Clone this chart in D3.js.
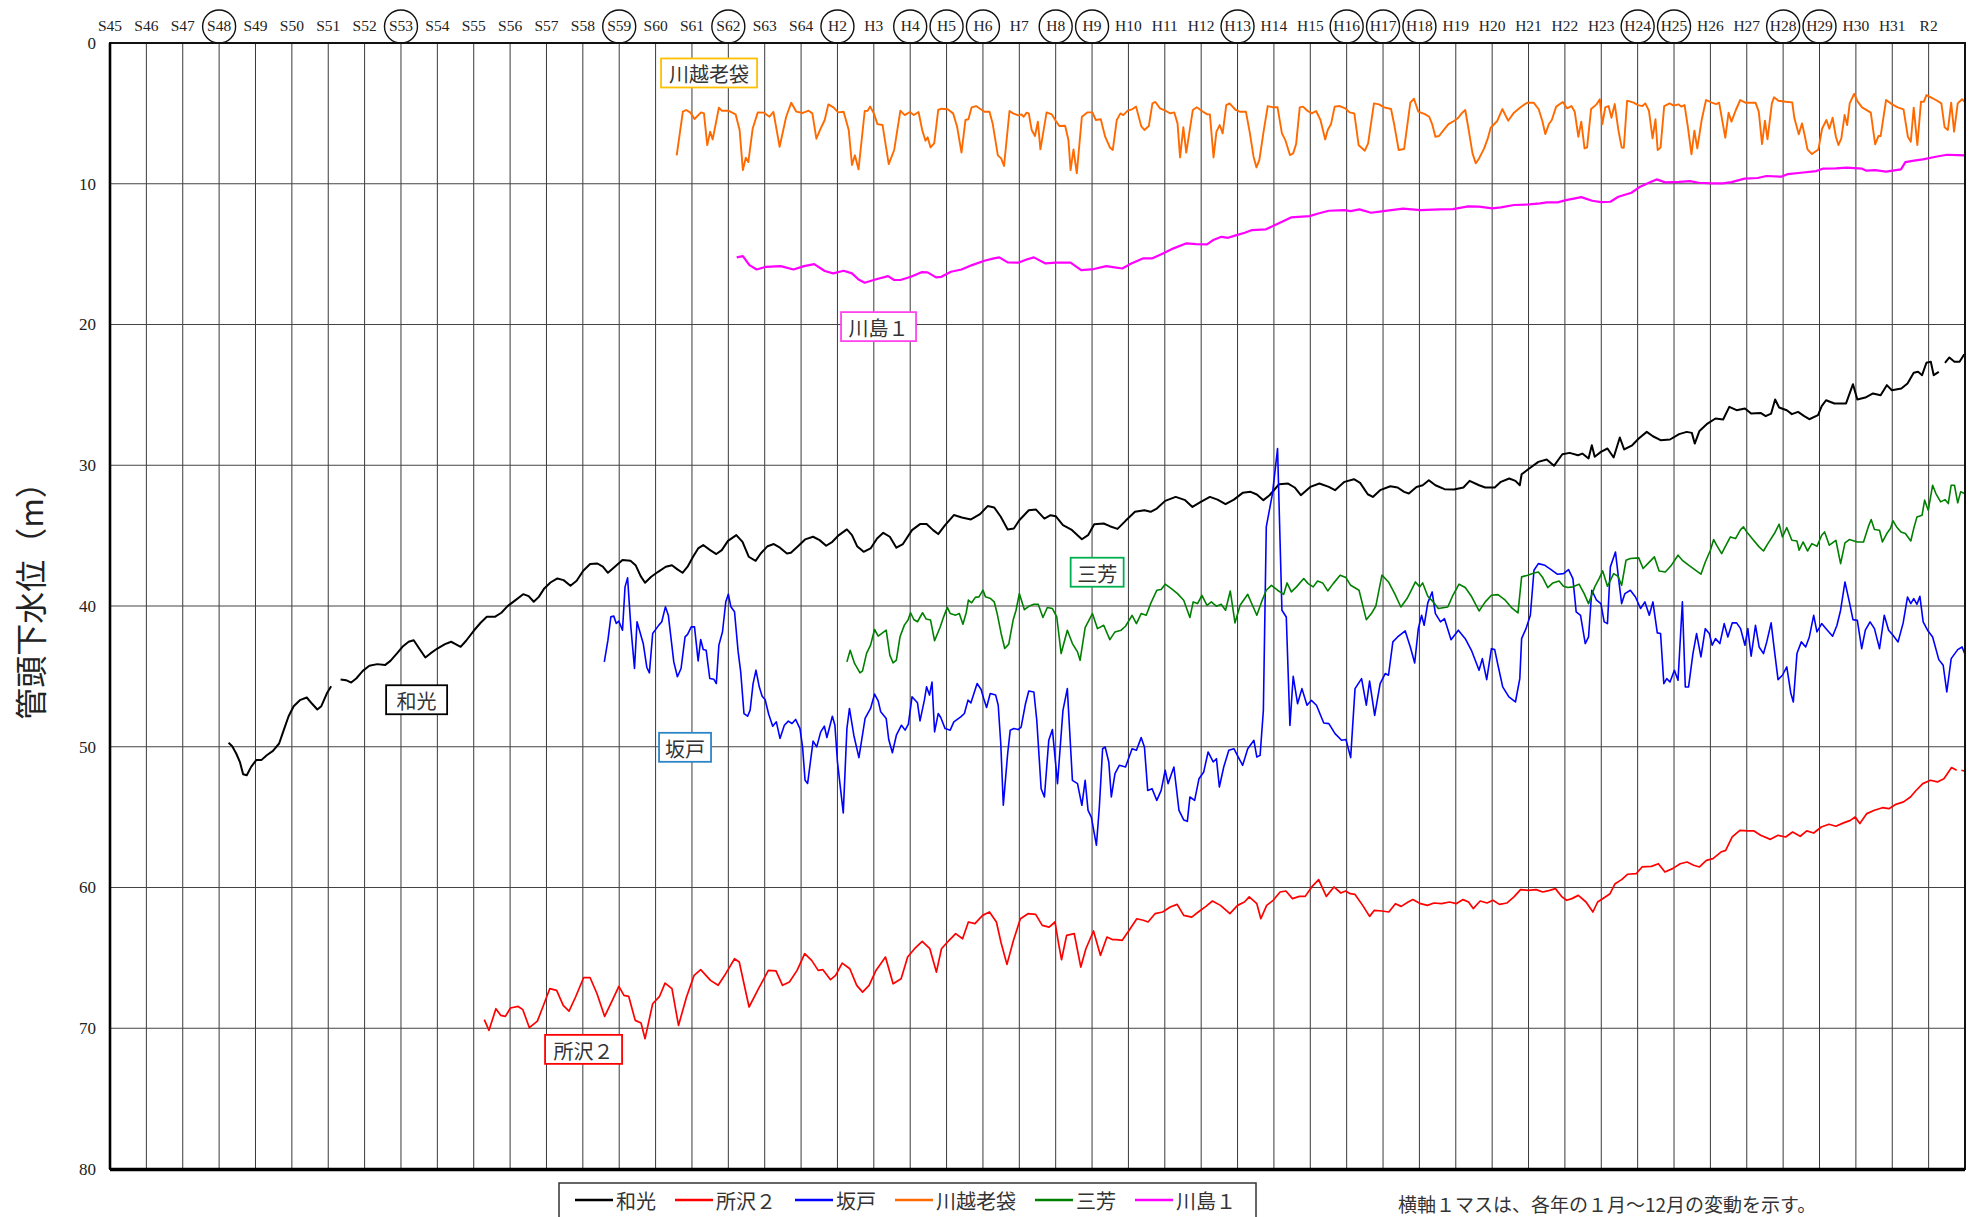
<!DOCTYPE html>
<html>
<head>
<meta charset="utf-8">
<script src="https://cdn.jsdelivr.net/npm/d3@7"></script>
<style>
  body { margin: 0; background: #fff; }
  svg { display: block; }
</style>
</head>
<body>
<svg id="chart" width="1979" height="1217"></svg>
<script>
// Year labels along the top (one column per year, S45 = 1970 ... R2 = 2020)
const yearLabels = [
  "S45","S46","S47","S48","S49","S50","S51","S52","S53","S54",
  "S55","S56","S57","S58","S59","S60","S61","S62","S63","S64",
  "H2","H3","H4","H5","H6","H7","H8","H9","H10","H11",
  "H12","H13","H14","H15","H16","H17","H18","H19","H20","H21",
  "H22","H23","H24","H25","H26","H27","H28","H29","H30","H31","R2"
];
// Years whose label is circled
const circledYears = ["S48","S53","S59","S62","H2","H4","H5","H6","H8","H9",
  "H13","H16","H17","H18","H24","H25","H28","H29"];
const depthTicks = [0, 10, 20, 30, 40, 50, 60, 70, 80];

// Series: [years since Jan 1970 (S45), depth below well head in m]; null = gap
const wako = [
  [3.26,49.72],[3.36,49.96],[3.47,50.48],[3.57,51.07],[3.66,51.95],[3.76,52.02],[3.88,51.43],[4.02,50.95],[4.16,50.95],[4.31,50.6],
  [4.48,50.29],[4.65,49.77],[4.76,48.94],[4.91,47.83],[5.05,47.12],[5.22,46.69],[5.41,46.5],[5.55,46.93],[5.70,47.35],[5.81,47.12],
  [5.96,46.22],[6.08,45.7],[6.2,null],[6.34,45.22],[6.49,45.27],[6.63,45.44],[6.77,45.15],[6.95,44.61],[7.13,44.25],[7.35,44.13],
  [7.56,44.2],[7.71,43.9],[7.89,43.37],[8.04,42.9],[8.21,42.54],[8.35,42.43],[8.52,43.09],[8.67,43.66],[8.81,43.37],[9.0,43.02],
  [9.21,42.71],[9.38,42.54],[9.50,42.71],[9.64,42.9],[9.79,42.47],[10.0,41.76],[10.19,41.19],[10.36,40.77],[10.58,40.77],[10.76,40.48],
  [10.93,40.01],[11.15,39.58],[11.36,39.16],[11.51,39.3],[11.65,39.7],[11.79,39.35],[11.94,38.75],[12.11,38.33],[12.30,38.04],[12.47,38.16],
  [12.66,38.56],[12.83,38.21],[13.01,37.5],[13.20,37.02],[13.40,36.98],[13.55,37.21],[13.69,37.64],[13.88,37.21],[14.09,36.74],[14.31,36.79],
  [14.45,37.1],[14.59,37.88],[14.71,38.35],[14.88,37.92],[15.07,37.57],[15.28,37.21],[15.45,37.1],[15.60,37.4],[15.74,37.64],[15.88,37.21],
  [16.03,36.5],[16.17,35.91],[16.31,35.67],[16.50,36.03],[16.67,36.31],[16.82,36.03],[16.99,35.37],[17.22,34.96],[17.39,35.44],[17.56,36.5],
  [17.75,36.79],[17.89,36.27],[18.08,35.75],[18.25,35.6],[18.42,35.86],[18.61,36.27],[18.72,36.22],[18.90,35.79],[19.11,35.27],[19.33,35.08],
  [19.51,35.32],[19.69,35.72],[19.86,35.44],[20.04,34.96],[20.26,34.56],[20.40,34.96],[20.54,35.75],[20.72,36.15],[20.91,35.91],[21.09,35.2],
  [21.26,34.8],[21.44,35.08],[21.62,35.86],[21.80,35.6],[22.05,34.61],[22.27,34.18],[22.45,34.18],[22.63,34.61],[22.77,34.89],[22.96,34.25],
  [23.20,33.54],[23.42,33.71],[23.67,33.85],[23.92,33.47],[24.13,32.9],[24.31,33.0],[24.49,33.66],[24.68,34.56],[24.85,34.49],[25.0,33.91],
  [25.26,33.2],[25.46,33.15],[25.69,33.79],[25.86,33.55],[26.0,33.62],[26.20,34.26],[26.43,34.57],[26.60,34.97],[26.72,35.26],[26.89,34.97],
  [27.06,34.19],[27.32,34.14],[27.49,34.33],[27.70,34.52],[27.92,33.95],[28.18,33.31],[28.44,33.2],[28.61,33.31],[28.78,33.08],[29.01,32.53],
  [29.30,32.25],[29.56,32.48],[29.76,32.96],[29.99,32.6],[30.24,32.25],[30.45,32.44],[30.67,32.77],[30.90,32.44],[31.14,31.96],[31.36,31.89],
  [31.53,32.08],[31.71,32.48],[31.88,32.13],[32.14,31.35],[32.39,31.3],[32.57,31.58],[32.74,32.13],[33.0,31.54],[33.25,31.3],[33.51,31.54],
  [33.68,31.77],[33.94,31.18],[34.20,30.99],[34.37,31.25],[34.58,32.06],[34.72,32.25],[34.92,31.77],[35.20,31.49],[35.40,31.58],[35.58,31.89],
  [35.71,32.01],[35.92,31.54],[36.09,31.42],[36.26,31.06],[36.44,31.42],[36.69,31.7],[36.95,31.73],[37.21,31.58],[37.38,31.11],[37.64,31.42],
  [37.81,31.58],[38.07,31.58],[38.24,31.18],[38.47,30.94],[38.64,31.11],[38.76,31.42],[38.81,30.64],[39.02,30.23],[39.27,29.76],[39.50,29.59],
  [39.70,30.04],[39.93,29.22],[40.13,29.12],[40.36,29.29],[40.48,29.17],[40.65,29.52],[40.74,28.58],[40.82,29.4],[40.99,29.05],[41.17,28.81],
  [41.34,29.45],[41.51,28.03],[41.63,28.88],[41.85,28.58],[42.03,28.1],[42.25,27.63],[42.42,27.94],[42.63,28.22],[42.89,28.17],[43.14,27.79],
  [43.35,27.63],[43.49,27.7],[43.57,28.46],[43.70,27.56],[43.92,27.04],[44.14,26.68],[44.35,26.75],[44.52,25.85],[44.72,26.09],[44.95,25.97],
  [45.12,26.33],[45.38,26.28],[45.52,26.51],[45.67,26.33],[45.78,25.33],[45.89,25.9],[46.10,26.09],[46.24,26.37],[46.41,26.21],[46.58,26.51],
  [46.72,26.73],[46.96,26.44],[47.06,25.8],[47.18,25.38],[47.41,25.61],[47.73,25.61],[47.92,24.24],[48.04,25.33],[48.26,25.19],[48.47,24.9],
  [48.68,25.02],[48.85,24.31],[48.99,24.67],[49.25,24.55],[49.42,24.19],[49.59,23.43],[49.71,23.36],[49.82,23.6],[49.94,22.72],[50.06,22.65],
  [50.14,23.6],[50.28,23.36],[50.36,null],[50.45,22.72],[50.57,22.34],[50.71,22.65],[50.85,22.65],[50.98,22.11]
];

const tokorozawa = [
  [10.29,69.39],[10.42,70.15],[10.61,68.61],[10.74,69.08],[10.87,69.16],[11.01,68.56],[11.22,68.45],[11.35,68.68],[11.53,69.96],[11.75,69.49],
  [11.90,68.49],[12.09,67.19],[12.28,67.31],[12.46,68.37],[12.62,68.78],[12.80,67.78],[13.02,66.41],[13.20,66.41],[13.39,67.55],[13.60,69.16],
  [13.81,68.02],[13.99,67.02],[14.13,67.66],[14.26,67.73],[14.44,69.44],[14.60,69.63],[14.71,70.74],[14.92,68.26],[15.11,67.73],[15.26,66.79],
  [15.45,67.19],[15.63,69.8],[15.85,67.78],[16.06,66.24],[16.24,65.84],[16.51,66.6],[16.72,66.95],[16.90,66.24],[17.17,65.06],[17.30,65.29],
  [17.57,68.49],[17.83,67.19],[18.10,65.89],[18.31,65.93],[18.49,66.95],[18.68,66.72],[18.89,65.89],[19.10,64.7],[19.29,65.18],[19.47,65.89],
  [19.60,65.84],[19.81,66.55],[19.95,66.24],[20.13,65.37],[20.34,65.77],[20.53,66.95],[20.69,67.43],[20.87,66.95],[21.06,65.89],[21.32,64.94],
  [21.53,66.84],[21.75,66.48],[21.93,64.94],[22.12,64.35],[22.33,63.83],[22.54,64.35],[22.72,66.01],[22.86,64.35],[23.07,63.75],[23.25,63.28],
  [23.44,63.64],[23.60,62.45],[23.78,62.57],[23.99,61.98],[24.18,61.74],[24.37,62.45],[24.50,63.94],[24.66,65.46],[24.84,63.75],[25.03,62.22],
  [25.24,61.86],[25.45,61.91],[25.63,62.69],[25.82,62.81],[25.98,62.45],[26.08,63.99],[26.16,65.13],[26.30,63.4],[26.51,63.28],[26.69,65.65],
  [26.83,64.35],[27.04,63.09],[27.23,64.82],[27.41,63.52],[27.57,63.71],[27.67,63.71],[27.83,63.75],[28.02,63.04],[28.23,62.22],[28.41,62.33],
  [28.54,62.45],[28.73,61.86],[28.94,61.74],[29.15,61.39],[29.34,61.2],[29.52,61.98],[29.74,62.1],[29.92,61.74],[30.13,61.34],[30.31,60.96],
  [30.53,61.27],[30.79,61.86],[31.0,61.27],[31.19,61.03],[31.32,60.67],[31.53,61.15],[31.64,62.22],[31.80,61.27],[31.98,60.91],[32.17,60.32],
  [32.33,60.25],[32.51,60.79],[32.70,60.63],[32.86,60.63],[33.04,59.96],[33.23,59.44],[33.44,60.63],[33.65,59.96],[33.84,60.39],[33.97,60.25],
  [34.10,60.44],[34.23,60.49],[34.44,61.27],[34.63,62.05],[34.76,61.62],[34.97,61.67],[35.16,61.74],[35.34,61.15],[35.50,61.34],[35.69,61.03],
  [35.82,60.86],[36.03,61.15],[36.22,61.27],[36.40,61.1],[36.61,61.15],[36.83,61.03],[37.01,61.15],[37.20,60.86],[37.35,61.03],[37.48,61.5],
  [37.67,60.96],[37.86,61.1],[38.02,60.91],[38.20,61.2],[38.41,61.1],[38.60,60.67],[38.78,60.15],[38.99,60.2],[39.21,60.15],[39.39,60.32],
  [39.58,60.2],[39.74,60.08],[39.92,60.67],[40.05,60.91],[40.19,60.79],[40.37,60.56],[40.58,61.03],[40.77,61.74],[40.90,61.03],[41.11,60.67],
  [41.24,60.44],[41.38,59.73],[41.56,59.44],[41.72,59.06],[41.96,59.02],[42.12,58.54],[42.38,58.5],[42.57,58.31],[42.75,58.9],[42.96,58.66],
  [43.17,58.31],[43.36,58.19],[43.54,58.42],[43.70,58.54],[43.89,58.07],[44.07,57.95],[44.29,57.48],[44.42,57.36],[44.60,56.41],[44.81,55.94],
  [45.02,55.98],[45.20,55.98],[45.38,56.29],[45.65,56.58],[45.86,56.29],[46.07,56.41],[46.26,56.06],[46.47,56.36],[46.65,55.98],[46.84,56.13],
  [47.05,55.7],[47.26,55.51],[47.45,55.65],[47.66,55.41],[47.85,55.23],[47.98,54.99],[48.11,55.46],[48.30,54.75],[48.51,54.51],[48.73,54.33],
  [48.91,54.4],[49.10,54.09],[49.31,53.92],[49.50,53.57],[49.66,53.09],[49.84,52.62],[50.05,52.38],[50.24,52.5],[50.42,52.27],[50.63,51.48],
  [50.77,51.67],[50.84,null],[50.90,51.67],[50.98,51.72]
];

const sakado = [
  [13.59,43.97],[13.69,42.43],[13.77,40.77],[13.85,40.72],[13.92,41.24],[13.99,41.08],[14.09,41.72],[14.16,38.64],[14.23,38.0],[14.32,41.48],
  [14.42,44.44],[14.49,41.12],[14.66,42.66],[14.76,44.37],[14.83,44.75],[14.92,41.95],[15.09,41.36],[15.17,41.12],[15.27,40.06],[15.35,40.65],
  [15.50,43.97],[15.60,45.03],[15.70,44.44],[15.81,42.19],[15.88,42.02],[15.98,41.48],[16.07,41.48],[16.17,43.9],[16.24,42.38],[16.31,43.09],
  [16.39,43.14],[16.49,45.15],[16.60,45.2],[16.67,45.51],[16.74,42.78],[16.84,41.83],[16.93,39.7],[17.0,39.16],[17.07,40.06],[17.17,40.41],
  [17.27,43.26],[17.34,44.68],[17.43,47.64],[17.53,47.83],[17.60,47.4],[17.68,45.51],[17.76,44.56],[17.85,45.74],[17.93,46.41],[18.01,46.64],
  [18.11,47.69],[18.22,48.54],[18.32,48.23],[18.42,49.41],[18.54,48.47],[18.65,48.18],[18.75,48.35],[18.85,48.06],[18.97,48.71],[19.04,50.01],
  [19.11,52.38],[19.18,52.61],[19.33,49.6],[19.43,50.01],[19.54,48.94],[19.64,48.54],[19.71,49.34],[19.86,47.83],[19.93,48.47],[20.0,51.07],
  [20.16,54.7],[20.26,48.71],[20.33,47.28],[20.45,49.18],[20.59,50.77],[20.76,47.99],[20.91,47.28],[21.02,46.26],[21.12,46.74],[21.19,47.52],
  [21.34,47.99],[21.41,49.49],[21.51,50.43],[21.62,49.18],[21.76,48.47],[21.86,48.82],[21.95,48.4],[22.05,46.45],[22.20,46.88],[22.27,48.16],
  [22.39,46.69],[22.45,45.74],[22.53,46.33],[22.60,45.41],[22.67,48.94],[22.77,47.64],[22.84,47.92],[22.96,48.71],[23.10,48.82],[23.20,48.23],
  [23.39,47.88],[23.49,47.64],[23.59,46.69],[23.67,46.88],[23.84,45.51],[23.95,45.93],[24.02,46.57],[24.10,47.21],[24.20,46.22],[24.35,46.33],
  [24.42,47.05],[24.49,49.77],[24.56,54.15],[24.68,50.48],[24.75,48.82],[24.85,48.71],[24.97,48.78],[25.05,48.6],[25.17,46.94],[25.26,46.04],
  [25.40,46.11],[25.48,48.12],[25.60,52.98],[25.69,53.57],[25.81,49.54],[25.91,48.78],[26.05,52.62],[26.20,47.41],[26.32,45.87],[26.46,52.39],
  [26.60,52.62],[26.72,54.16],[26.81,52.39],[26.89,54.52],[26.98,55.0],[27.12,57.0],[27.20,54.3],[27.29,50.14],[27.36,50.02],[27.46,51.08],
  [27.53,53.57],[27.63,51.91],[27.75,51.32],[27.92,51.44],[28.10,50.14],[28.22,50.25],[28.35,49.35],[28.44,50.02],[28.53,53.1],[28.65,52.98],
  [28.78,53.81],[28.90,53.1],[29.01,51.67],[29.09,52.62],[29.25,51.44],[29.39,54.52],[29.52,55.2],[29.62,55.3],[29.69,53.57],[29.82,53.81],
  [29.94,52.27],[30.07,51.79],[30.19,50.37],[30.33,51.08],[30.42,50.85],[30.50,52.86],[30.62,51.44],[30.76,50.25],[30.90,50.14],[31.02,50.73],
  [31.14,51.32],[31.28,50.14],[31.45,49.54],[31.53,50.73],[31.62,50.61],[31.71,47.41],[31.79,34.38],[31.96,32.01],[32.10,28.81],[32.22,40.3],
  [32.34,40.78],[32.44,48.48],[32.53,45.0],[32.65,46.94],[32.77,45.87],[32.91,47.05],[33.03,46.7],[33.17,47.05],[33.37,48.31],[33.51,48.36],
  [33.68,49.07],[33.86,49.54],[33.98,49.49],[34.11,50.77],[34.23,45.87],[34.41,45.16],[34.54,47.05],[34.63,45.33],[34.77,47.77],[34.92,45.52],
  [35.06,44.8],[35.15,44.92],[35.27,42.55],[35.40,42.2],[35.61,41.77],[35.75,42.91],[35.87,44.05],[35.97,41.61],[36.06,40.66],[36.13,41.37],
  [36.23,39.78],[36.35,39.0],[36.44,40.54],[36.58,41.13],[36.69,40.9],[36.87,42.39],[37.07,41.72],[37.26,42.32],[37.43,43.15],[37.64,44.57],
  [37.73,43.74],[37.85,45.23],[37.98,43.03],[38.07,43.1],[38.16,44.21],[38.29,45.75],[38.46,46.46],[38.64,46.82],[38.76,45.16],[38.81,42.32],
  [38.93,41.61],[39.05,40.66],[39.15,37.46],[39.27,36.99],[39.45,37.11],[39.62,37.41],[39.79,37.74],[39.96,37.7],[40.10,37.41],[40.22,38.05],
  [40.31,40.42],[40.43,40.66],[40.56,42.67],[40.65,42.2],[40.74,38.88],[40.87,39.59],[40.99,39.83],[41.08,41.13],[41.17,41.25],[41.25,37.22],
  [41.39,36.16],[41.47,37.93],[41.56,39.83],[41.65,39.12],[41.80,38.88],[41.94,39.36],[42.08,40.18],[42.20,39.71],[42.32,40.66],[42.42,39.71],
  [42.54,41.91],[42.63,41.96],[42.72,45.52],[42.80,45.16],[42.89,45.4],[43.01,44.57],[43.11,45.28],[43.23,39.71],[43.31,45.75],[43.40,45.75],
  [43.52,43.38],[43.62,41.96],[43.74,43.62],[43.86,41.61],[43.97,41.96],[44.05,42.79],[44.14,42.32],[44.26,42.67],[44.38,41.25],[44.48,42.2],
  [44.60,41.2],[44.72,41.2],[44.83,41.61],[44.95,42.79],[45.03,41.61],[45.12,43.57],[45.24,41.37],[45.34,42.91],[45.46,43.38],[45.55,42.55],
  [45.67,41.2],[45.76,43.15],[45.86,45.23],[45.98,44.92],[46.10,44.33],[46.21,46.18],[46.28,46.82],[46.38,43.38],[46.50,42.55],[46.62,42.91],
  [46.72,42.2],[46.84,40.66],[46.93,41.84],[47.06,41.25],[47.18,41.61],[47.36,42.15],[47.48,41.37],[47.58,40.3],[47.70,38.29],[47.82,39.71],
  [47.92,40.97],[48.04,41.02],[48.16,43.03],[48.26,41.72],[48.39,41.13],[48.51,41.61],[48.65,43.03],[48.78,40.66],[48.90,41.72],[49.02,42.08],
  [49.16,42.55],[49.30,41.2],[49.42,39.36],[49.51,39.83],[49.59,39.47],[49.68,39.88],[49.76,39.31],[49.85,41.13],[49.97,41.72],[50.11,42.2],
  [50.28,43.81],[50.40,44.21],[50.50,46.11],[50.62,43.74],[50.80,43.1],[50.92,42.91],[50.99,43.38]
];

const kawagoe = [
  [15.58,7.98],[15.75,4.88],[15.84,4.76],[15.96,4.95],[16.07,5.40],[16.25,4.93],[16.33,5.0],[16.42,7.25],[16.50,6.30],[16.57,6.85],
  [16.74,4.6],[16.82,4.81],[17.0,4.81],[17.2,5.07],[17.31,6.18],[17.40,9.03],[17.48,8.15],[17.55,8.46],[17.67,6.07],[17.81,4.93],
  [17.98,4.95],[18.13,5.24],[18.24,4.9],[18.41,7.37],[18.59,5.24],[18.73,4.24],[18.87,4.88],[19.05,4.97],[19.21,4.81],[19.31,5.0],
  [19.42,6.8],[19.54,6.07],[19.65,5.47],[19.75,4.36],[19.89,4.57],[20.02,4.93],[20.17,4.88],[20.31,6.18],[20.40,8.67],[20.48,7.98],
  [20.58,8.98],[20.75,4.83],[20.83,4.81],[20.90,4.52],[21.0,5.0],[21.1,5.76],[21.24,5.83],[21.41,8.6],[21.56,7.6],[21.73,4.81],
  [21.85,5.12],[21.99,4.9],[22.10,5.12],[22.23,4.9],[22.33,6.18],[22.42,6.94],[22.48,6.7],[22.56,7.42],[22.66,7.13],[22.77,4.76],
  [22.86,4.67],[23.03,4.71],[23.18,5.0],[23.29,5.95],[23.41,7.79],[23.52,5.47],[23.6,5.42],[23.69,4.57],[23.81,4.48],[23.92,4.67],
  [24.04,4.88],[24.18,4.88],[24.27,5.76],[24.41,7.98],[24.50,8.2],[24.58,8.74],[24.73,4.83],[24.83,5.0],[24.97,5.14],[25.06,5.07],
  [25.12,5.24],[25.20,4.95],[25.26,5.0],[25.34,6.18],[25.43,6.61],[25.51,5.59],[25.58,7.56],[25.75,4.93],[25.89,5.07],[26.0,5.52],
  [26.10,5.9],[26.26,5.88],[26.35,6.89],[26.41,9.03],[26.49,7.56],[26.58,9.26],[26.72,5.24],[26.87,4.93],[27.01,4.93],[27.10,5.47],
  [27.24,5.42],[27.36,6.66],[27.49,7.42],[27.57,7.6],[27.68,5.47],[27.78,5.0],[27.86,5.12],[27.98,4.81],[28.10,4.71],[28.21,4.52],
  [28.35,5.9],[28.44,6.18],[28.56,5.9],[28.66,4.29],[28.74,4.19],[28.87,4.64],[29.03,4.83],[29.15,5.0],[29.26,4.93],[29.35,5.71],
  [29.42,8.13],[29.51,5.99],[29.59,7.79],[29.77,4.76],[29.88,4.57],[30.05,4.88],[30.17,5.07],[30.24,5.07],[30.34,8.13],[30.42,6.3],
  [30.51,5.83],[30.59,6.42],[30.69,4.41],[30.78,4.29],[30.95,4.76],[31.06,4.88],[31.23,4.88],[31.34,6.42],[31.44,8.08],[31.52,8.84],
  [31.60,8.31],[31.72,6.23],[31.83,4.48],[31.97,4.57],[32.10,4.57],[32.22,6.42],[32.32,6.94],[32.44,7.96],[32.53,7.84],[32.61,7.18],
  [32.71,4.57],[32.80,4.52],[32.92,4.81],[33.04,5.0],[33.16,4.83],[33.28,5.47],[33.41,6.85],[33.48,6.18],[33.57,5.76],[33.67,4.52],
  [33.81,4.48],[33.96,4.64],[34.08,4.93],[34.21,5.0],[34.33,7.27],[34.50,7.65],[34.59,7.13],[34.75,4.29],[34.89,4.36],[35.03,4.57],
  [35.22,4.69],[35.31,5.83],[35.43,7.6],[35.58,7.53],[35.75,4.24],[35.85,3.96],[35.97,4.88],[36.15,5.05],[36.27,5.24],[36.35,5.76],
  [36.44,6.66],[36.54,6.61],[36.68,6.14],[36.80,5.76],[36.95,5.54],[37.07,5.31],[37.16,5.0],[37.26,4.76],[37.34,5.95],[37.46,7.84],
  [37.55,8.55],[37.64,8.2],[37.78,7.49],[37.88,6.78],[37.96,6.02],[38.14,5.54],[38.28,4.69],[38.44,5.52],[38.60,4.95],[38.78,4.57],
  [38.96,4.24],[39.14,4.24],[39.28,4.71],[39.38,5.54],[39.46,6.47],[39.56,5.76],[39.64,5.47],[39.76,4.52],[39.94,4.19],[40.06,4.64],
  [40.18,4.48],[40.27,4.88],[40.37,6.66],[40.45,5.59],[40.54,7.49],[40.61,7.42],[40.72,4.69],[40.87,4.36],[40.96,4.0],[41.03,5.76],
  [41.11,4.57],[41.20,4.48],[41.28,5.31],[41.37,4.34],[41.47,6.18],[41.56,7.42],[41.62,7.44],[41.71,4.1],[41.89,4.24],[42.01,4.41],
  [42.13,4.48],[42.21,4.29],[42.31,4.81],[42.41,6.78],[42.49,5.42],[42.55,7.6],[42.63,7.42],[42.73,4.48],[42.88,4.29],[42.99,4.45],
  [43.12,4.36],[43.20,4.52],[43.29,4.41],[43.38,5.95],[43.48,7.91],[43.56,6.23],[43.64,7.49],[43.76,5.47],[43.88,4.05],[44.04,4.24],
  [44.16,4.34],[44.24,4.24],[44.34,5.71],[44.41,6.73],[44.50,4.95],[44.58,5.59],[44.70,4.76],[44.82,4.05],[44.96,4.24],[45.12,4.24],
  [45.24,4.24],[45.33,4.88],[45.42,7.18],[45.50,5.52],[45.57,6.85],[45.69,4.29],[45.75,3.86],[45.87,4.1],[46.07,4.17],[46.25,4.22],
  [46.31,5.35],[46.43,6.49],[46.52,5.71],[46.59,6.54],[46.67,7.56],[46.79,7.89],[46.97,7.56],[47.07,6.09],[47.19,5.47],[47.27,6.09],
  [47.36,5.31],[47.45,6.66],[47.52,7.25],[47.60,6.78],[47.69,5.12],[47.76,5.83],[47.83,4.29],[47.95,3.62],[48.05,4.17],[48.17,4.57],
  [48.41,4.95],[48.53,7.2],[48.62,6.61],[48.68,6.61],[48.83,4.05],[49.00,4.36],[49.15,4.57],[49.31,4.71],[49.43,6.66],[49.51,7.01],
  [49.59,4.59],[49.69,7.25],[49.79,4.17],[49.87,4.17],[49.94,3.7],[50.06,3.86],[50.20,4.05],[50.35,4.29],[50.44,5.99],[50.53,6.18],
  [50.62,4.24],[50.70,6.3],[50.80,4.29],[50.92,4.0],[50.99,4.17]
];

const miyoshi = [
  [20.26,43.97],[20.35,43.14],[20.47,44.08],[20.62,44.75],[20.69,44.61],[20.80,43.37],[20.91,42.78],[21.02,41.67],[21.12,42.14],[21.22,41.95],
  [21.34,41.72],[21.44,43.49],[21.53,44.04],[21.62,43.85],[21.72,42.19],[21.84,41.36],[21.94,41.0],[22.01,40.48],[22.10,40.96],[22.20,41.12],
  [22.34,40.48],[22.44,40.93],[22.56,41.0],[22.67,42.47],[22.82,41.53],[22.92,40.77],[23.02,40.1],[23.10,40.53],[23.25,40.65],[23.35,40.53],
  [23.45,41.29],[23.54,40.48],[23.60,39.58],[23.69,39.77],[23.79,39.39],[23.89,39.35],[24.0,38.87],[24.07,39.35],[24.21,39.47],[24.31,39.7],
  [24.39,40.53],[24.50,41.95],[24.60,43.02],[24.71,42.71],[24.83,41.0],[24.91,40.3],[25.0,39.12],[25.14,40.26],[25.26,40.02],[25.40,39.88],
  [25.52,39.88],[25.65,40.82],[25.77,40.11],[25.91,40.18],[26.03,40.78],[26.15,43.38],[26.32,41.72],[26.46,42.67],[26.60,43.26],[26.67,43.86],
  [26.81,41.53],[27.01,40.54],[27.15,41.61],[27.32,41.37],[27.49,42.39],[27.63,41.84],[27.80,41.72],[27.92,41.44],[28.10,40.66],[28.22,41.25],
  [28.35,40.54],[28.49,40.66],[28.61,39.83],[28.78,38.88],[28.90,38.83],[29.01,38.45],[29.18,38.76],[29.35,39.12],[29.52,39.59],[29.69,40.82],
  [29.78,39.71],[29.90,39.83],[30.02,39.24],[30.16,39.95],[30.28,39.71],[30.42,40.02],[30.55,39.88],[30.67,40.3],[30.80,38.93],[30.93,41.2],
  [31.07,39.95],[31.28,39.17],[31.41,39.95],[31.53,40.66],[31.66,39.71],[31.79,38.88],[31.93,38.53],[32.10,38.88],[32.27,39.17],[32.36,38.36],
  [32.48,39.0],[32.62,38.64],[32.82,38.05],[32.94,38.41],[33.08,38.64],[33.20,38.22],[33.34,38.36],[33.48,38.93],[33.63,38.41],[33.82,37.81],
  [33.98,37.98],[34.11,38.53],[34.34,38.88],[34.54,40.97],[34.68,40.54],[34.80,40.02],[34.97,37.81],[35.15,38.29],[35.32,39.12],[35.49,40.07],
  [35.66,39.47],[35.80,38.76],[35.89,38.29],[36.01,38.64],[36.09,38.36],[36.23,39.31],[36.38,39.71],[36.52,40.18],[36.78,40.07],[36.92,39.24],
  [37.09,38.45],[37.26,38.69],[37.43,39.31],[37.64,40.35],[37.81,39.71],[37.98,39.24],[38.16,39.19],[38.36,39.59],[38.53,40.11],[38.71,40.49],
  [38.81,37.93],[38.98,37.81],[39.15,37.65],[39.27,37.58],[39.39,37.98],[39.53,38.69],[39.67,38.36],[39.84,38.22],[39.96,38.6],[40.08,38.69],
  [40.22,38.64],[40.39,38.45],[40.53,39.12],[40.65,39.83],[40.82,38.64],[40.94,38.05],[41.04,37.51],[41.17,38.6],[41.34,37.7],[41.46,37.89],
  [41.56,38.53],[41.68,36.75],[41.80,36.63],[42.03,36.58],[42.15,37.34],[42.28,36.99],[42.46,36.51],[42.59,37.51],[42.76,37.58],[42.93,37.1],
  [43.11,36.39],[43.23,36.75],[43.40,37.1],[43.57,37.41],[43.74,37.74],[43.86,36.87],[44.00,36.04],[44.09,35.28],[44.17,35.68],[44.31,36.28],
  [44.43,35.68],[44.55,35.09],[44.69,35.21],[44.83,34.57],[44.91,34.38],[45.00,34.74],[45.17,35.28],[45.34,35.8],[45.46,36.09],[45.58,35.57],
  [45.76,34.85],[45.89,34.19],[45.98,35.09],[46.10,34.43],[46.24,35.33],[46.38,35.38],[46.44,36.04],[46.55,35.45],[46.67,36.09],[46.79,35.57],
  [46.93,35.76],[47.06,34.97],[47.14,34.74],[47.27,35.68],[47.45,35.33],[47.58,36.99],[47.70,35.52],[47.82,35.28],[48.04,35.45],[48.21,35.45],
  [48.34,34.38],[48.42,33.86],[48.51,34.57],[48.65,34.62],[48.73,35.45],[48.85,34.85],[48.95,34.5],[49.02,33.95],[49.12,34.38],[49.24,34.74],
  [49.36,34.85],[49.51,35.38],[49.59,34.5],[49.68,33.67],[49.82,33.55],[49.89,32.48],[49.99,33.2],[50.11,31.42],[50.20,32.01],[50.33,32.6],
  [50.45,32.44],[50.54,32.72],[50.62,31.42],[50.71,31.42],[50.80,32.67],[50.88,31.89],[50.99,32.01]
];

const kawajima = [
  [17.23,15.23],[17.40,15.14],[17.58,15.78],[17.78,16.09],[18.04,15.9],[18.44,15.85],[18.79,16.09],[19.08,15.85],[19.36,15.71],[19.65,16.2],
  [19.88,16.37],[20.17,16.18],[20.40,16.37],[20.58,16.8],[20.75,17.03],[21.04,16.8],[21.39,16.56],[21.56,16.84],[21.73,16.84],[22.02,16.61],
  [22.31,16.28],[22.48,16.3],[22.71,16.65],[22.86,16.61],[23.12,16.25],[23.41,16.09],[23.70,15.78],[24.04,15.47],[24.30,15.3],[24.45,15.23],
  [24.68,15.59],[24.97,15.61],[25.20,15.38],[25.40,15.23],[25.72,15.66],[26.0,15.61],[26.41,15.61],[26.70,16.13],[27.05,16.06],[27.39,15.85],
  [27.62,15.94],[27.83,16.02],[28.08,15.66],[28.41,15.3],[28.66,15.3],[28.95,14.95],[29.24,14.59],[29.58,14.24],[29.87,14.29],[30.16,14.31],
  [30.33,14.0],[30.56,13.77],[30.74,13.84],[30.97,13.65],[31.20,13.48],[31.40,13.29],[31.78,13.24],[32.12,12.82],[32.47,12.39],[32.98,12.3],
  [33.22,12.11],[33.51,11.92],[33.93,11.87],[34.11,11.94],[34.35,11.82],[34.67,12.06],[35.01,11.94],[35.55,11.77],[36.03,11.87],[36.56,11.82],
  [36.92,11.8],[37.34,11.61],[37.64,11.63],[38.0,11.75],[38.24,11.68],[38.60,11.51],[39.02,11.47],[39.32,11.4],[39.50,11.32],[39.80,11.32],
  [40.03,11.16],[40.45,10.95],[40.75,11.21],[40.99,11.3],[41.25,11.28],[41.47,10.92],[41.83,10.64],[42.07,10.21],[42.31,9.93],[42.52,9.69],
  [42.76,9.9],[43.14,9.86],[43.44,9.81],[43.68,9.93],[44.04,9.97],[44.34,9.97],[44.58,9.88],[44.94,9.64],[45.30,9.59],[45.54,9.45],
  [45.95,9.5],[46.13,9.31],[46.49,9.22],[46.91,9.1],[47.09,8.93],[47.45,8.91],[47.75,8.86],[48.17,8.93],[48.29,9.07],[48.53,9.03],
  [48.83,9.14],[49.24,8.98],[49.36,8.46],[49.60,8.36],[49.84,8.27],[50.20,8.08],[50.50,7.94],[50.80,7.96],[50.99,7.98]
];

// Legend order and colours
const seriesNames  = ["和光", "所沢２", "坂戸", "川越老袋", "三芳", "川島１"];
const seriesData   = [wako, tokorozawa, sakado, kawagoe, miyoshi, kawajima];
const seriesColors = ["#000000", "#ff0000", "#0000ff", "#ff6a00", "#008000", "#ff00ff"];
const seriesWidths = [2.0, 1.7, 1.6, 1.9, 1.6, 2.2];

// Station name tags placed in data space: [years, depth] of the tag centre
const tagNames   = ["川越老袋", "川島１", "和光", "三芳", "坂戸", "所沢２"];
const tagAnchors = [[16.47, 2.13], [21.13, 20.15], [8.43, 46.66], [27.14, 37.6], [15.81, 50.04], [13.02, 71.5]];
const tagBorders = ["#ffc000", "#ff44ee", "#000000", "#00b050", "#2e86c8", "#ff0000"];
const tagWidths  = [96, 75, 61, 53, 52, 77];

const noteText = "横軸１マスは、各年の１月～12月の変動を示す。";
const yTitle = "管頭下水位（m）";

// ---------------------------------------------------------------
const svg = d3.select("#chart");
const plot = { left: 110, right: 1965, top: 43, bottom: 1169 };

const x = d3.scaleLinear().domain([0, yearLabels.length]).range([plot.left, plot.right]);
const y = d3.scaleLinear().domain([0, 80]).range([plot.top, plot.bottom]);

const serif = "'Liberation Serif', 'DejaVu Serif', serif";
const jp = "'Noto Sans CJK JP', 'Noto Sans', sans-serif";

svg.append("rect").attr("width", 1979).attr("height", 1217).attr("fill", "#fff");

svg.append("defs").append("clipPath").attr("id", "plotClip")
  .append("rect")
  .attr("x", plot.left).attr("y", plot.top)
  .attr("width", plot.right - plot.left).attr("height", plot.bottom - plot.top);

// Grid: one column per year, horizontal lines every 10 m
const grid = svg.append("g");
grid.selectAll("line.v")
  .data(d3.range(1, yearLabels.length))
  .join("line")
  .attr("class", "v")
  .attr("x1", d => x(d)).attr("x2", d => x(d))
  .attr("y1", plot.top).attr("y2", plot.bottom)
  .attr("stroke", "#3a3a3a").attr("stroke-width", 1);

grid.selectAll("line.h")
  .data(depthTicks.filter(d => d > 0 && d < 80))
  .join("line")
  .attr("class", "h")
  .attr("x1", plot.left).attr("x2", plot.right)
  .attr("y1", d => y(d)).attr("y2", d => y(d))
  .attr("stroke", "#444").attr("stroke-width", 1.2);

// Depth axis labels
const yAxis = d3.axisLeft(y).tickValues(depthTicks).tickSize(0).tickPadding(14);
const yg = svg.append("g").attr("transform", `translate(${plot.left},0)`).call(yAxis);
yg.select(".domain").remove();
yg.selectAll("text")
  .attr("font-family", serif).attr("font-size", 17).attr("fill", "#222");

// Axis title (vertical)
svg.append("text")
  .attr("transform", `translate(29, ${(473 + 713) / 2}) rotate(-90)`)
  .attr("text-anchor", "middle")
  .attr("dominant-baseline", "central")
  .attr("font-family", jp)
  .attr("font-size", 32)
  .attr("fill", "#222")
  .text(yTitle);

// Year labels, with circles around the marked years
const yearRow = svg.append("g");
yearRow.selectAll("text")
  .data(yearLabels)
  .join("text")
  .attr("x", (d, i) => x(i))
  .attr("y", 31)
  .attr("text-anchor", "middle")
  .attr("font-family", serif)
  .attr("font-size", 15.5)
  .attr("fill", "#222")
  .text(d => d);

yearRow.selectAll("ellipse")
  .data(yearLabels.map((d, i) => ({ d, i })).filter(o => circledYears.includes(o.d)))
  .join("ellipse")
  .attr("cx", o => x(o.i))
  .attr("cy", 26.5)
  .attr("rx", 16.5)
  .attr("ry", 16.5)
  .attr("fill", "none")
  .attr("stroke", "#111")
  .attr("stroke-width", 1.4);

// Series lines
const line = d3.line()
  .defined(d => d[1] !== null)
  .x(d => x(d[0]))
  .y(d => y(d[1]));

const lines = svg.append("g").attr("clip-path", "url(#plotClip)");
seriesData.forEach((data, i) => {
  lines.append("path")
    .datum(data)
    .attr("fill", "none")
    .attr("stroke", seriesColors[i])
    .attr("stroke-width", seriesWidths[i])
    .attr("stroke-linejoin", "round")
    .attr("d", line);
});

// Plot frame
svg.append("rect")
  .attr("x", plot.left).attr("y", plot.top)
  .attr("width", plot.right - plot.left).attr("height", plot.bottom - plot.top)
  .attr("fill", "none").attr("stroke", "#111").attr("stroke-width", 2);
svg.append("line")
  .attr("x1", plot.left).attr("x2", plot.right)
  .attr("y1", plot.bottom + 0.5).attr("y2", plot.bottom + 0.5)
  .attr("stroke", "#000").attr("stroke-width", 3.5);
svg.append("line")
  .attr("x1", plot.left).attr("x2", plot.left)
  .attr("y1", plot.top).attr("y2", plot.bottom)
  .attr("stroke", "#000").attr("stroke-width", 2.6);

// Station tags
const tags = svg.append("g");
tagNames.forEach((name, i) => {
  const cx = x(tagAnchors[i][0]);
  const cy = y(tagAnchors[i][1]);
  const w = tagWidths[i], h = 29;
  tags.append("rect")
    .attr("x", cx - w / 2).attr("y", cy - h / 2)
    .attr("width", w).attr("height", h)
    .attr("fill", "#fff")
    .attr("stroke", tagBorders[i]).attr("stroke-width", 1.8);
  tags.append("text")
    .attr("x", cx).attr("y", cy + 1)
    .attr("text-anchor", "middle")
    .attr("dominant-baseline", "central")
    .attr("font-family", jp)
    .attr("font-size", 20)
    .attr("fill", "#333")
    .text(name);
});

// Legend
const legend = svg.append("g");
legend.append("rect")
  .attr("x", 559).attr("y", 1183)
  .attr("width", 1256 - 559).attr("height", 60)
  .attr("fill", "#fff").attr("stroke", "#333").attr("stroke-width", 1.5);

let lx = 575;
const ly = 1200;
seriesNames.forEach((name, i) => {
  legend.append("line")
    .attr("x1", lx).attr("x2", lx + 38)
    .attr("y1", ly).attr("y2", ly)
    .attr("stroke", seriesColors[i]).attr("stroke-width", 2.6);
  const t = legend.append("text")
    .attr("x", lx + 41).attr("y", ly)
    .attr("dominant-baseline", "central")
    .attr("font-family", jp)
    .attr("font-size", 20)
    .attr("fill", "#333")
    .text(name);
  lx += 41 + t.node().getComputedTextLength() + 19;
});

// Footnote
svg.append("text")
  .attr("x", 1398).attr("y", 1212)
  .attr("font-family", jp)
  .attr("font-size", 19)
  .attr("fill", "#333")
  .text(noteText);
</script>
</body>
</html>
